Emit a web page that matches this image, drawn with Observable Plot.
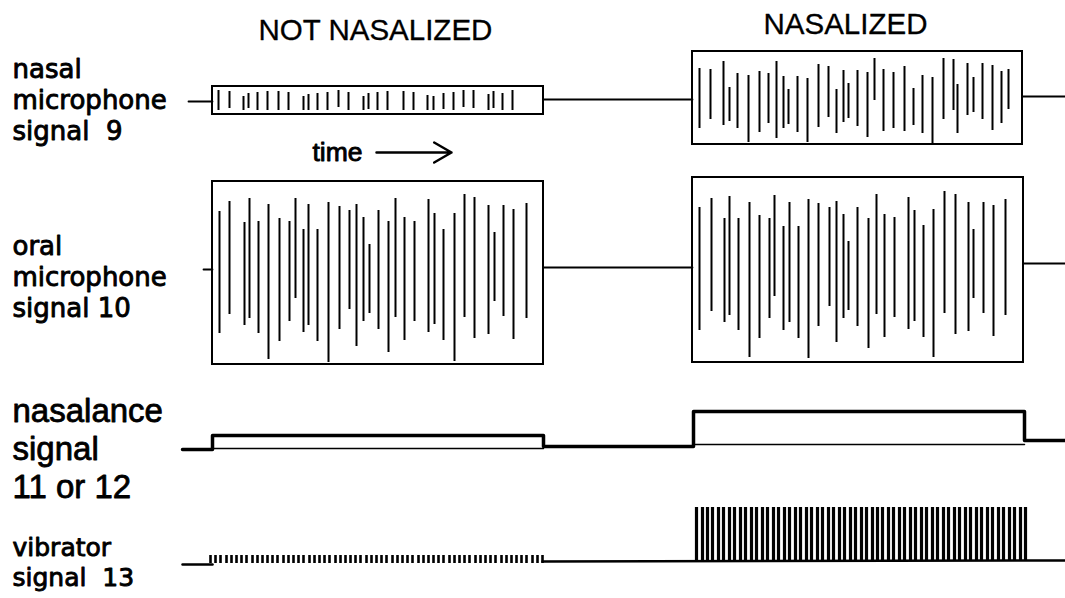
<!DOCTYPE html>
<html><head><meta charset="utf-8">
<script src="https://cdn.jsdelivr.net/npm/d3@7"></script>
<script src="https://cdn.jsdelivr.net/npm/@observablehq/plot@0.6"></script>
<style>html,body{margin:0;padding:0;background:#fff;} svg{display:block}</style>
</head><body><div id="chart"></div>
<script>
// ---- data (time units along x, signal level units along y, downward) ----
const titles = [
  {t: 258, v: 39, text: "NOT NASALIZED"},
  {t: 763, v: 33, text: "NASALIZED"}
];
// each label block: its lines, and the level of its last baseline
const labelsNasalOral = [
  {t: 12, v: 139, text: "nasal\nmicrophone\nsignal\u00a0\u00a09"},
  {t: 12, v: 316, text: "oral\nmicrophone\nsignal 10"}
];
const labelsNasalance = [
  {t: 12, v: 497, text: "nasalance\nsignal\n11 or 12"}
];
const labelsVibrator = [
  {t: 12, v: 585, text: "vibrator\nsignal\u00a0\u00a013"}
];
const timeLabel = [{t: 312, v: 160, text: "time"}];
const timeArrow = [{t1: 376, t2: 451, v: 152}];

// recording windows (boxes)
const windows = [
  {t1: 212, t2: 543, v1: 86, v2: 114},   // nasal, not nasalized
  {t1: 692, t2: 1022, v1: 51, v2: 144},  // nasal, nasalized
  {t1: 212, t2: 543, v1: 181, v2: 364},  // oral, not nasalized
  {t1: 692, t2: 1023, v1: 177, v2: 362}  // oral, nasalized
];
// idle signal segments
const idleSegments = [
  [[188, 101], [212, 101]],
  [[543, 99], [692, 99]],
  [[1022, 96], [1065, 96]],
  [[203, 269], [212, 269]],
  [[543, 267], [692, 267]],
  [[1023, 263], [1065, 263]]
];
// spikes: [time, high, low]
const nasalPlain = [
  [218,90,110],[229,91,108],[243,96,110],[248,93,108],[257,92,110],[267,91,110],
  [278,91,110],[288,92,110],[303,96,110],[308,94,110],[317,93,110],[327,92,110],
  [338,90,107],[348,92,110],[363,96,110],[368,93,109],[377,92,110],[387,91,110],
  [403,91,110],[413,92,110],[427,95,110],[433,96,110],[443,93,109],[453,92,110],
  [463,90,107],[473,90,108],[488,94,110],[493,91,108],[502,93,110],[512,90,110]
];
const nasalNasalized = [
  [699,68,128],[710,69,119],[723,61,125],[729,87,121],[737,73,128],[748,75,142],
  [759,71,132],[768,73,123],[776,61,138],[783,76,128],[788,89,124],[797,76,132],
  [807,78,142],[818,64,127],[828,66,117],[836,89,133],[843,70,122],[848,83,118],
  [857,70,126],[867,72,137],[874,58,100],[883,69,131],[893,72,128],[904,66,131],
  [913,88,125],[922,75,133],[932,77,143],[943,58,119],[953,59,110],[957,84,133],
  [967,63,115],[973,77,112],[982,63,119],[992,65,130],[1001,71,123],[1008,69,109]
];
const oralPlain = [
  [219,211,333],[229,201,314],[244,222,325],[249,198,318],[258,221,333],[268,204,359],
  [279,218,341],[289,221,321],[295,198,298],[303,229,332],[308,204,325],[317,229,341],
  [328,202,362],[339,206,329],[349,210,309],[356,204,346],[363,217,321],[369,244,313],
  [378,210,329],[388,221,352],[395,198,317],[404,217,340],[414,221,321],[428,199,332],
  [434,213,324],[443,229,340],[454,213,361],[464,194,317],[474,197,338],[488,205,334],
  [494,232,301],[503,205,316],[513,209,339],[526,203,318]
];
const oralNasalized = [
  [699,207,330],[711,198,311],[724,218,322],[729,196,315],[738,218,330],[749,202,357],
  [759,215,338],[769,218,318],[774,195,296],[783,226,330],[789,202,322],[798,226,338],
  [808,199,358],[818,203,326],[829,207,306],[836,201,342],[843,214,318],[848,241,310],
  [857,207,326],[868,218,348],[876,194,314],[884,214,337],[894,217,317],[908,197,329],
  [914,210,321],[923,225,337],[933,209,357],[944,191,313],[955,194,334],[968,202,331],
  [973,229,298],[983,202,313],[993,205,336],[1005,199,315]
];
// nasalance signal levels: [time, level]
const nasalanceSteps = [
  [182,449],[212,449],[212,435],[543,435],[543,446],[693,446],[693,411],[1024,411],[1024,440],[1065,440]
];
const nasalanceFloor = [
  [[212,448],[543,448]],
  [[693,444],[1024,444]]
];
// vibrator
const vibratorBase = [
  [[182,564],[212,564]],
  [[542,561],[1065,560]]
];
const vibratorPlainPulses = [210,215,220,226,231,236,241,246,252,257,262,267,272,277,283,288,293,298,303,309,314,319,324,329,335,340,345,350,355,360,366,371,376,381,386,392,397,402,407,412,418,423,428,433,438,443,449,454,459,464,469,475,480,485,490,495,501,506,511,516,521,526,532,537,542];
const vibratorPlainLevel = [555, 563];
const vibratorNasalPulses = [696,702,707,712,718,723,729,734,740,745,751,756,762,767,773,778,784,789,795,800,806,811,817,822,828,833,839,844,850,855,861,866,872,877,882,888,893,899,904,910,915,921,926,932,937,943,948,954,959,965,970,976,981,987,992,998,1003,1009,1014,1020,1025];
const vibratorNasalLevel = [507, 561];

// ---- chart ----
const spikeMarks = (arr, sw) => Plot.ruleX(arr, {x: d => d[0], y1: d => d[1], y2: d => d[2], stroke: "black", strokeWidth: sw});
const segMarks = (segs, sw) => segs.map(s => Plot.line(s, {x: d => d[0], y: d => d[1], stroke: "black", strokeWidth: sw}));
const arial = "Liberation Sans, Arial, sans-serif";
const dejavu = "DejaVu Sans, sans-serif";
const label = (data, font, size, thick, lineHeight = 1) => Plot.text(data, {
  x: "t", y: "v", text: "text", textAnchor: "start", lineAnchor: "bottom",
  fontSize: size, fontFamily: font, fill: "black", lineHeight,
  stroke: thick ? "black" : null, strokeWidth: thick || 0
});

const chart = Plot.plot({
  width: 1065,
  height: 598,
  margin: 0,
  x: {domain: [0, 1065], range: [0, 1065], axis: null},
  y: {domain: [0, 598], range: [0, 598], axis: null},
  style: {background: "white", color: "black"},
  marks: [
    label(titles, arial, 29.5, 0.3),
    label(labelsNasalOral, dejavu, 26, 0.9, 31 / 26),
    label(labelsNasalance, arial, 33, 0.8, 1.14),
    label(labelsVibrator, dejavu, 25, 0.9, 30 / 25),
    label(timeLabel, arial, 26.5, 0.9),
    Plot.arrow(timeArrow, {x1: "t1", x2: "t2", y1: "v", y2: "v", stroke: "black", strokeWidth: 2.5, headLength: 12}),
    ...segMarks(idleSegments, 1.8),
    Plot.rect(windows, {x1: "t1", x2: "t2", y1: "v1", y2: "v2", fill: "none", stroke: "black", strokeWidth: 2}),
    spikeMarks(nasalPlain, 2),
    spikeMarks(nasalNasalized, 2),
    spikeMarks(oralPlain, 2),
    spikeMarks(oralNasalized, 2),
    Plot.line(nasalanceSteps, {x: d => d[0], y: d => d[1], stroke: "black", strokeWidth: 3.5}),
    ...segMarks(nasalanceFloor, 1.5),
    ...segMarks(vibratorBase, 2.5),
    Plot.ruleX(vibratorPlainPulses, {x: d => d, y1: vibratorPlainLevel[0], y2: vibratorPlainLevel[1], stroke: "black", strokeWidth: 2.6}),
    Plot.ruleX(vibratorNasalPulses, {x: d => d, y1: vibratorNasalLevel[0], y2: vibratorNasalLevel[1], stroke: "black", strokeWidth: 3.2})
  ]
});
document.getElementById("chart").append(chart);
</script></body></html>
